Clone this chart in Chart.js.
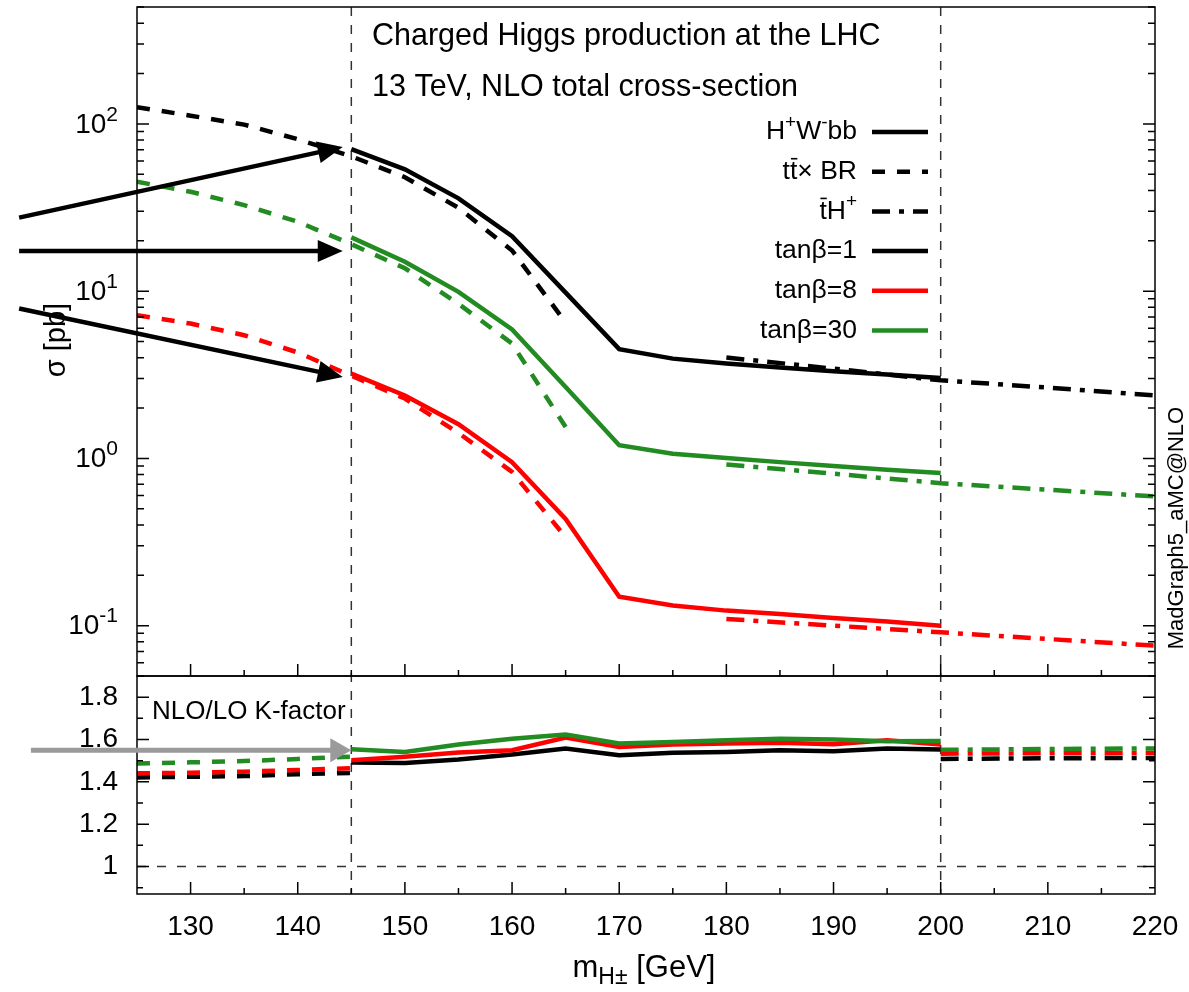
<!DOCTYPE html>
<html>
<head>
<meta charset="utf-8">
<script src="https://cdn.jsdelivr.net/npm/chart.js@4.4.0/dist/chart.umd.min.js"></script>
<style>
  html, body { margin: 0; padding: 0; background: #fff; }
</style>
</head>
<body>
<canvas id="chart" width="1189" height="992"></canvas>
<script>
// masses [GeV]
const massSolid = [145, 150, 155, 160, 165, 170, 175, 180, 185, 190, 195, 200];
const massTT = [125, 130, 135, 140, 145, 150, 155, 160, 165];
const massTH = [180, 190, 200, 210, 220];
const massKTT = [125, 130, 135, 140, 145];
const massKTH = [200, 210, 220];

// sigma [pb], H+W-bb
const hwbbTan1 = [70.6, 53.5, 35.9, 21.3, 9.8, 4.5, 3.95, 3.69, 3.49, 3.32, 3.17, 3.03];
const hwbbTan8 = [3.21, 2.38, 1.6, 0.95, 0.435, 0.149, 0.132, 0.123, 0.1175, 0.111, 0.106, 0.1];
const hwbbTan30 = [20.97, 15.0, 9.9, 5.9, 2.67, 1.2, 1.067, 1.004, 0.95, 0.9, 0.855, 0.817];

// sigma [pb], tt x BR
const ttTan1 = [126, 112, 99, 81, 64, 48, 31.5, 17.5, 6.5];
const ttTan8 = [7.18, 6.4, 5.45, 4.3, 3.12, 2.28, 1.42, 0.83, 0.338];
const ttTan30 = [45.1, 39.3, 32.7, 26.0, 19.1, 13.7, 8.4, 4.86, 1.54];

// sigma [pb], tH+
const thTan1 = [4.01, 3.44, 2.93, 2.65, 2.38];
const thTan8 = [0.1096, 0.1, 0.0912, 0.0832, 0.0759];
const thTan30 = [0.92, 0.81, 0.711, 0.65, 0.592];

// NLO/LO K-factors
const kSolidTan1 = [1.491, 1.489, 1.505, 1.529, 1.557, 1.526, 1.537, 1.541, 1.549, 1.545, 1.557, 1.553];
const kSolidTan8 = [1.502, 1.518, 1.538, 1.549, 1.609, 1.565, 1.576, 1.581, 1.585, 1.577, 1.596, 1.576];
const kSolidTan30 = [1.554, 1.541, 1.576, 1.604, 1.623, 1.581, 1.588, 1.596, 1.604, 1.6, 1.592, 1.593];
const kTTTan1 = [1.421, 1.424, 1.427, 1.436, 1.442];
const kTTTan8 = [1.44, 1.443, 1.448, 1.456, 1.464];
const kTTTan30 = [1.487, 1.492, 1.498, 1.508, 1.519];
const kTHTan1 = [1.508, 1.511, 1.513];
const kTHTan8 = [1.533, 1.535, 1.536];
const kTHTan30 = [1.551, 1.555, 1.558];

// annotations
const markerMasses = [145, 200];
const kReference = 1;
const topArrows = [
  { from: [114, 27.5], to: [144.2, 72.8] },
  { from: [114, 17.4], to: [144.2, 17.4] },
  { from: [114, 7.88], to: [144.2, 3.07] }
];
const kArrow = { from: [115.1, 1.549], to: [145, 1.549] };
const decadeLabels = [-1, 0, 1, 2];

const FONT = '"Liberation Sans", Arial, Helvetica, sans-serif';
const ink = '#000000';
const red = '#ff0000';
const green = '#228b22';
const DASH = [13, 12];
const DASHDOT = [18, 9, 5, 9];

function line(xs, ys, axis, color, dash, order) {
  return {
    data: xs.map((m, i) => ({ x: m, y: ys[i] })),
    yAxisID: axis,
    borderColor: color,
    borderDash: dash,
    borderWidth: 4.5,
    borderCapStyle: 'butt',
    pointRadius: 0,
    tension: 0,
    fill: false,
    order: order
  };
}

// text with sup/sub/overbar parts
function drawRich(ctx, parts, xAnchor, yc, size, align, small) {
  const ratio = small || 0.7;
  const sizes = parts.map(p => (p[1] === 'sup' || p[1] === 'sub') ? Math.round(size * ratio) : size);
  const widths = parts.map((p, i) => {
    ctx.font = sizes[i] + 'px ' + FONT;
    return ctx.measureText(p[0]).width;
  });
  const total = widths.reduce((a, b) => a + b, 0);
  let cx = align === 'right' ? xAnchor - total : align === 'center' ? xAnchor - total / 2 : xAnchor;
  ctx.textAlign = 'left';
  ctx.textBaseline = 'middle';
  parts.forEach((p, i) => {
    ctx.font = sizes[i] + 'px ' + FONT;
    let dy = 0;
    if (p[1] === 'sup') dy = -size * 0.36;
    if (p[1] === 'sub') dy = size * 0.3;
    ctx.fillText(p[0], cx, yc + dy);
    if (p[1] === 'bar') ctx.fillRect(cx + 1, yc - size * 0.52, widths[i] - 1, 1.6);
    cx += widths[i];
  });
}

function arrow(ctx, x0, y0, x1, y1, color, width, headLen, headHalf) {
  const ang = Math.atan2(y1 - y0, x1 - x0);
  const bx = x1 - headLen * Math.cos(ang), by = y1 - headLen * Math.sin(ang);
  ctx.strokeStyle = color;
  ctx.fillStyle = color;
  ctx.lineWidth = width;
  ctx.setLineDash([]);
  ctx.beginPath();
  ctx.moveTo(x0, y0);
  ctx.lineTo(bx + 2 * Math.cos(ang), by + 2 * Math.sin(ang));
  ctx.stroke();
  ctx.beginPath();
  ctx.moveTo(x1, y1);
  ctx.lineTo(bx - headHalf * Math.sin(ang), by + headHalf * Math.cos(ang));
  ctx.lineTo(bx + headHalf * Math.sin(ang), by - headHalf * Math.cos(ang));
  ctx.closePath();
  ctx.fill();
}

const legendRows = [
  { parts: [['H', ''], ['+', 'sup'], ['W', ''], ['-', 'sup'], ['bb', '']], color: ink, dash: [] },
  { parts: [['t', ''], ['t', 'bar'], ['\u00d7 BR', '']], color: ink, dash: DASH },
  { parts: [['t', 'bar'], ['H', ''], ['+', 'sup']], color: ink, dash: DASHDOT },
  { parts: [['tan\u03b2=1', '']], color: ink, dash: [] },
  { parts: [['tan\u03b2=8', '']], color: red, dash: [] },
  { parts: [['tan\u03b2=30', '']], color: green, dash: [] }
];

const decorations = {
  id: 'decorations',
  beforeDatasetsDraw(chart) {
    const { ctx, scales: { x, y, yK } } = chart;
    ctx.save();
    ctx.strokeStyle = '#333';
    ctx.lineWidth = 1.5;
    ctx.setLineDash([9, 9]);
    for (const m of markerMasses) {
      const px = x.getPixelForValue(m);
      ctx.beginPath();
      ctx.moveTo(px, y.top);
      ctx.lineTo(px, yK.bottom);
      ctx.stroke();
    }
    const p1 = yK.getPixelForValue(kReference);
    ctx.setLineDash([9, 11]);
    ctx.beginPath();
    ctx.moveTo(x.left, p1);
    ctx.lineTo(x.right, p1);
    ctx.stroke();
    ctx.restore();
  },
  afterDatasetsDraw(chart) {
    const { ctx, scales: { x, y, yK } } = chart;
    ctx.save();
    ctx.setLineDash([]);
    ctx.strokeStyle = ink;
    ctx.lineWidth = 1.5;

    // frames
    ctx.strokeRect(x.left, y.top, x.right - x.left, y.bottom - y.top);
    ctx.strokeRect(x.left, yK.top, x.right - x.left, yK.bottom - yK.top);

    // ticks
    ctx.beginPath();
    for (let e = -2; e <= 2; e++) {
      for (let m = 1; m <= 9; m++) {
        const v = m * Math.pow(10, e);
        if (v < y.min || v > y.max) continue;
        const p = y.getPixelForValue(v);
        const len = m === 1 ? 12 : 7;
        ctx.moveTo(x.left, p); ctx.lineTo(x.left + len, p);
        ctx.moveTo(x.right, p); ctx.lineTo(x.right - len, p);
      }
    }
    for (let i = 9; i <= 19; i++) {
      const v = i / 10;
      if (v < yK.min || v > yK.max) continue;
      const p = yK.getPixelForValue(v);
      const len = i % 2 === 0 ? 12 : 6;
      ctx.moveTo(x.left, p); ctx.lineTo(x.left + len, p);
      ctx.moveTo(x.right, p); ctx.lineTo(x.right - len, p);
    }
    for (let v = 130; v < 220; v += 5) {
      const p = x.getPixelForValue(v);
      const len = v % 10 === 0 ? 12 : 6;
      ctx.moveTo(p, y.bottom); ctx.lineTo(p, y.bottom - len);
      ctx.moveTo(p, yK.bottom); ctx.lineTo(p, yK.bottom - len);
    }
    ctx.stroke();

    // log axis labels
    ctx.fillStyle = ink;
    for (const e of decadeLabels) {
      const p = y.getPixelForValue(Math.pow(10, e));
      ctx.font = '21px ' + FONT;
      const sup = String(e);
      const sw = ctx.measureText(sup).width;
      const xr = x.left - 19;
      ctx.textBaseline = 'middle';
      ctx.textAlign = 'left';
      ctx.fillText(sup, xr - sw, p - 9);
      ctx.font = '28px ' + FONT;
      ctx.textAlign = 'right';
      ctx.fillText('10', xr - sw, p + 1);
    }

    // arrows
    for (const a of topArrows) {
      arrow(ctx, x.getPixelForValue(a.from[0]), y.getPixelForValue(a.from[1]),
        x.getPixelForValue(a.to[0]), y.getPixelForValue(a.to[1]), ink, 4.5, 25, 11);
    }
    arrow(ctx, x.getPixelForValue(kArrow.from[0]), yK.getPixelForValue(kArrow.from[1]),
      x.getPixelForValue(kArrow.to[0]), yK.getPixelForValue(kArrow.to[1]), '#9a9a9a', 5, 21, 12);

    // texts
    ctx.fillStyle = ink;
    ctx.textAlign = 'left';
    ctx.textBaseline = 'middle';
    ctx.font = '30.5px ' + FONT;
    ctx.fillText('Charged Higgs production at the LHC', 372, 37);
    ctx.fillText('13 TeV, NLO total cross-section', 372, 88);
    ctx.font = '26px ' + FONT;
    ctx.fillText('NLO/LO K-factor', 152, 712);

    // legend
    legendRows.forEach((row, i) => {
      const yc = 132 + i * 39.7;
      ctx.fillStyle = ink;
      drawRich(ctx, row.parts, 857, yc, 26.5, 'right');
      ctx.strokeStyle = row.color;
      ctx.lineWidth = 4.5;
      ctx.setLineDash(row.dash);
      ctx.beginPath();
      ctx.moveTo(872, yc);
      ctx.lineTo(928, yc);
      ctx.stroke();
    });
    ctx.setLineDash([]);

    // axis titles
    ctx.fillStyle = ink;
    ctx.save();
    ctx.translate(57, 340);
    ctx.rotate(-Math.PI / 2);
    ctx.font = '29px ' + FONT;
    ctx.textAlign = 'center';
    ctx.textBaseline = 'middle';
    ctx.fillText('\u03c3 [pb]', 0, 0);
    ctx.restore();

    ctx.save();
    ctx.translate(1177, 528);
    ctx.rotate(-Math.PI / 2);
    ctx.font = '22px ' + FONT;
    ctx.textAlign = 'center';
    ctx.textBaseline = 'middle';
    ctx.fillText('MadGraph5_aMC@NLO', 0, 0);
    ctx.restore();

    drawRich(ctx, [['m', ''], ['H\u00b1', 'sub'], [' [GeV]', '']], 644, 968, 31, 'center', 0.75);
    ctx.restore();
  }
};

const datasets = [
  line(massSolid, hwbbTan30, 'y', green, [], 0),
  line(massTT, ttTan30, 'y', green, DASH, 0),
  line(massTH, thTan30, 'y', green, DASHDOT, 0),
  line(massSolid, kSolidTan30, 'yK', green, [], 0),
  line(massKTT, kTTTan30, 'yK', green, DASH, 0),
  line(massKTH, kTHTan30, 'yK', green, DASHDOT, 0),
  line(massSolid, hwbbTan8, 'y', red, [], 1),
  line(massTT, ttTan8, 'y', red, DASH, 1),
  line(massTH, thTan8, 'y', red, DASHDOT, 1),
  line(massSolid, kSolidTan8, 'yK', red, [], 1),
  line(massKTT, kTTTan8, 'yK', red, DASH, 1),
  line(massKTH, kTHTan8, 'yK', red, DASHDOT, 1),
  line(massSolid, hwbbTan1, 'y', ink, [], 2),
  line(massTT, ttTan1, 'y', ink, DASH, 2),
  line(massTH, thTan1, 'y', ink, DASHDOT, 2),
  line(massSolid, kSolidTan1, 'yK', ink, [], 2),
  line(massKTT, kTTTan1, 'yK', ink, DASH, 2),
  line(massKTH, kTHTan1, 'yK', ink, DASHDOT, 2)
];

new Chart(document.getElementById('chart'), {
  type: 'line',
  data: { datasets: datasets },
  plugins: [decorations],
  options: {
    responsive: false,
    animation: false,
    devicePixelRatio: 1,
    layout: { padding: { top: 7, right: 34, left: 0, bottom: 0 } },
    plugins: {
      legend: { display: false },
      tooltip: { enabled: false }
    },
    scales: {
      x: {
        type: 'linear',
        position: 'bottom',
        min: 125,
        max: 220,
        grid: { display: false, drawTicks: false },
        border: { display: false },
        ticks: {
          stepSize: 10,
          includeBounds: false,
          padding: 16,
          maxRotation: 0,
          autoSkip: false,
          color: ink,
          font: { family: FONT, size: 28 }
        },
        afterFit: s => { s.height = 98; s.paddingLeft = 0; s.paddingRight = 0; }
      },
      y: {
        type: 'logarithmic',
        position: 'left',
        stack: 'panels',
        stackWeight: 669,
        weight: 2,
        min: 0.05,
        max: 500,
        grid: { display: false, drawTicks: false },
        border: { display: false },
        ticks: { display: false },
        afterFit: s => { s.width = 137; s.paddingTop = 0; s.paddingBottom = 0; }
      },
      yK: {
        type: 'linear',
        position: 'left',
        stack: 'panels',
        stackWeight: 218,
        weight: 1,
        min: 0.87,
        max: 1.9,
        grid: { display: false, drawTicks: false },
        border: { display: false },
        ticks: {
          stepSize: 0.2,
          includeBounds: false,
          autoSkip: false,
          padding: 19,
          color: ink,
          font: { family: FONT, size: 28 },
          callback: v => String(Math.round(v * 10) / 10)
        },
        afterFit: s => { s.width = 137; s.paddingTop = 0; s.paddingBottom = 0; }
      }
    }
  }
});
</script>
</body>
</html>
